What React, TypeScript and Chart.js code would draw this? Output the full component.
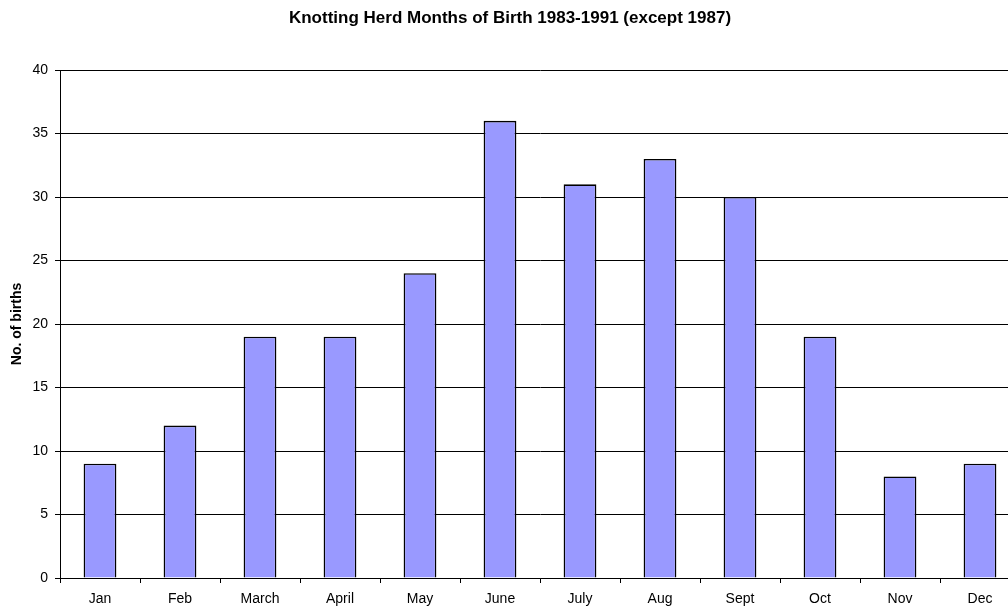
import React, { useEffect, useRef } from "react";
import { Chart, registerables } from "chart.js";

Chart.register(...registerables);

const categories = ["Jan", "Feb", "March", "April", "May", "June", "July", "Aug", "Sept", "Oct", "Nov", "Dec"];
const births = [9, 12, 19, 19, 24, 36, 31, 33, 30, 19, 8, 9];
const yTicks = [0, 5, 10, 15, 20, 25, 30, 35, 40];
const chartTitle = "Knotting Herd Months of Birth 1983-1991 (except 1987)";
const yTitle = "No. of births";

export default function App() {
  const ref = useRef<HTMLCanvasElement | null>(null);
  useEffect(() => {
    if (!ref.current) return;
    const family = "'Liberation Sans', Arial, sans-serif";
    const chart = new Chart(ref.current, {
      type: "bar",
      data: {
        labels: categories,
        datasets: [
          {
            data: births,
            backgroundColor: "#9999ff",
            borderColor: "#000000",
            borderWidth: 1.6,
            barPercentage: 0.41,
            categoryPercentage: 1,
          },
        ],
      },
      options: {
        responsive: false,
        animation: false,
        devicePixelRatio: 1,
        layout: { padding: { left: 0, right: 0, top: 0, bottom: 0 } },
        plugins: {
          legend: { display: false },
          tooltip: { enabled: false },
          title: {
            display: true,
            text: chartTitle,
            color: "#000",
            font: { family, size: 17, weight: "bold" },
            padding: { top: 8, bottom: 41.6 },
          },
        },
        scales: {
          x: {
            grid: {
              display: true,
              drawOnChartArea: false,
              drawTicks: true,
              tickLength: 5,
              offset: true,
              color: "#000",
            },
            border: { display: true, color: "#000" },
            ticks: { color: "#000", font: { family, size: 14 }, padding: 8, maxRotation: 0, autoSkip: false },
            afterFit: (s: any) => {
              s.height = 34;
            },
          },
          y: {
            min: 0,
            max: 40,
            afterBuildTicks: (s: any) => {
              s.ticks = yTicks.map((v) => ({ value: v }));
            },
            grid: { color: "#000", tickLength: 5, drawTicks: true },
            border: { display: true, color: "#000" },
            ticks: { color: "#000", font: { family, size: 14 }, padding: 7 },
            title: {
              display: true,
              text: yTitle,
              color: "#000",
              font: { family, size: 14, weight: "bold" },
              padding: { top: 8.5, bottom: 0 },
            },
            afterFit: (s: any) => {
              s.width = 60;
            },
          },
        },
      },
    });
    return () => chart.destroy();
  }, []);
  return (
    <div style={{ position: "fixed", left: 0, top: 0, width: 1008, height: 612, overflow: "hidden", background: "#fff" }}>
      <canvas ref={ref} width={1020} height={612} style={{ display: "block" }} />
    </div>
  );
}
